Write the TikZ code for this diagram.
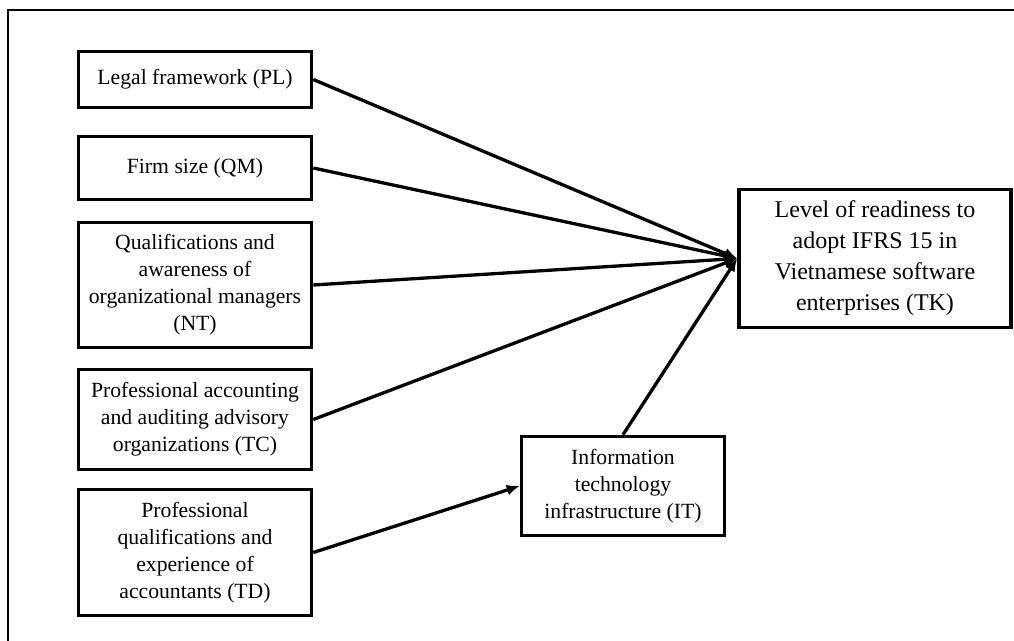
\documentclass[tikz,border=0pt]{standalone}
\usepackage{fontspec}
\setmainfont{Liberation Serif}
\usetikzlibrary{arrows.meta}
\begin{document}
\begin{tikzpicture}[x=1bp,y=-1bp,
  box/.style={draw=black, line width=3.6bp, inner sep=0pt, align=center,
    font=\fontsize{21.7bp}{27bp}\selectfont},
  leftbox/.style={box, minimum width=233bp},
  conn/.style={line width=3.3bp, -{Latex[length=13bp,width=11bp]}}]
\useasboundingbox (0,0) rectangle (1014,641);
\draw[line width=1.2bp, black] (8,641) -- (8,10) -- (1014,10);
\node[leftbox, minimum height=56bp] (PL) at (195,79.5) {Legal framework (PL)};
\node[leftbox, minimum height=63bp] (QM) at (195,168) {Firm size (QM)};
\node[leftbox, minimum height=125bp] (NT) at (195,285) {Qualifications and\\awareness of\\organizational managers\\(NT)};
\node[leftbox, minimum height=100bp] (TC) at (195,419.5) {Professional accounting\\and auditing advisory\\organizations (TC)};
\node[leftbox, minimum height=126bp] (TD) at (195,552.5) {Professional\\qualifications and\\experience of\\accountants (TD)};
\node[box, minimum width=203bp, minimum height=99bp] (IT) at (623,486) {Information\\technology\\infrastructure (IT)};
\node[box, minimum width=272bp, minimum height=138bp, font=\fontsize{24bp}{31bp}\selectfont] (TK) at (875,258.5) {Level of readiness to\\adopt IFRS 15 in\\Vietnamese software\\enterprises (TK)};
\draw[conn] (PL.east) -- (TK.west);
\draw[conn] (QM.east) -- (TK.west);
\draw[conn] (NT.east) -- (TK.west);
\draw[conn] (TC.east) -- (TK.west);
\draw[conn] (IT.north) -- (TK.west);
\draw[conn] (TD.east) -- (IT.west);
\end{tikzpicture}
\end{document}
